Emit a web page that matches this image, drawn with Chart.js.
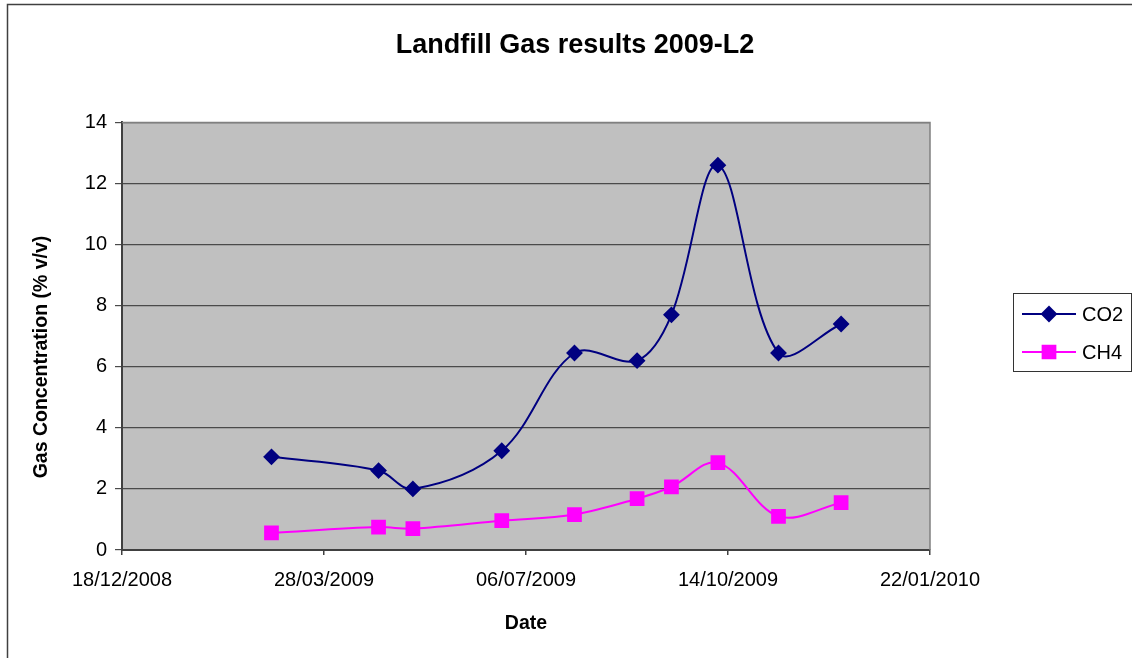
<!DOCTYPE html>
<html>
<head>
<meta charset="utf-8">
<script src="https://cdn.jsdelivr.net/npm/chart.js@4"></script>
<style>
  body { margin: 0; background: #fff; }
</style>
</head>
<body>
<canvas id="gasChart" width="1132" height="658"></canvas>
<script>
// sample dates and readings (% v/v)
var fechas = ['2009-03-02', '2009-04-24', '2009-05-11', '2009-06-24', '2009-07-30',
              '2009-08-30', '2009-09-16', '2009-10-09', '2009-11-08', '2009-12-09'];
var co2 = [3.05, 2.6, 2.0, 3.25, 6.45, 6.2, 7.7, 12.6, 6.45, 7.4];
var ch4 = [0.56, 0.75, 0.7, 0.96, 1.16, 1.68, 2.07, 2.86, 1.1, 1.55];
var inicio = '2008-12-18'; // first x tick
var pasoDias = 100;        // x tick step in days
var totalDias = 400;
var tituloY = 'Gas Concentration (% v/v)';

var DIA = 86400000;
var t0 = Date.parse(inicio);
function dia(s) { return Math.round((Date.parse(s) - t0) / DIA); }
function fecha(d) {
    var f = new Date(t0 + d * DIA);
    var dd = ('0' + f.getUTCDate()).slice(-2);
    var mm = ('0' + (f.getUTCMonth() + 1)).slice(-2);
    return dd + '/' + mm + '/' + f.getUTCFullYear();
}
var puntosCO2 = fechas.map(function (s, i) { return { x: dia(s), y: co2[i] }; });
var puntosCH4 = fechas.map(function (s, i) { return { x: dia(s), y: ch4[i] }; });

var fuente = '"Liberation Sans", Arial, sans-serif';

var fondo = {
    id: 'fondo',
    beforeDraw: function (chart) {
        var a = chart.chartArea, ctx = chart.ctx;
        ctx.save();
        ctx.fillStyle = '#C0C0C0';
        ctx.fillRect(a.left, a.top, a.right - a.left, a.bottom - a.top);
        ctx.restore();
    },
    afterDraw: function (chart) {
        var a = chart.chartArea, ctx = chart.ctx;
        ctx.save();
        // plot frame (right side)
        ctx.strokeStyle = '#808080';
        ctx.lineWidth = 1.5;
        ctx.beginPath();
        ctx.moveTo(a.left, a.top);
        ctx.lineTo(a.right, a.top);
        ctx.lineTo(a.right, a.bottom);
        ctx.stroke();
        // outer chart border
        ctx.strokeStyle = '#404040';
        ctx.lineWidth = 1.5;
        ctx.beginPath();
        ctx.moveTo(7.5, 700);
        ctx.lineTo(7.5, 4.5);
        ctx.lineTo(1200, 4.5);
        ctx.stroke();
        // y axis title, centred a bit lower like the original
        ctx.fillStyle = '#000';
        ctx.font = 'bold 19.5px ' + fuente;
        ctx.textAlign = 'center';
        ctx.textBaseline = 'middle';
        ctx.translate(42, 357);
        ctx.rotate(-Math.PI / 2);
        ctx.fillText(tituloY, 0, 0);
        ctx.setTransform(1, 0, 0, 1, 0, 0);
        // legend
        ctx.textAlign = 'left';
        ctx.strokeStyle = '#333';
        ctx.lineWidth = 1;
        ctx.strokeRect(1013.5, 293.5, 118, 78);
        var filas = [314, 352];
        chart.data.datasets.forEach(function (ds, i) {
            var y = filas[i];
            ctx.strokeStyle = ds.borderColor;
            ctx.lineWidth = 2;
            ctx.beginPath();
            ctx.moveTo(1022, y);
            ctx.lineTo(1076, y);
            ctx.stroke();
            ctx.fillStyle = ds.pointBackgroundColor;
            ctx.strokeStyle = ds.pointBorderColor;
            Chart.helpers.drawPoint(ctx, {
                pointStyle: ds.pointStyle, radius: ds.pointRadius,
                rotation: 0, borderWidth: 1
            }, 1049, y);
            ctx.fillStyle = '#000';
            ctx.font = '20px ' + fuente;
            ctx.textBaseline = 'middle';
            ctx.fillText(ds.label, 1082, y + 1);
        });
        ctx.restore();
    }
};

var ctx = document.getElementById('gasChart');
var myChart = new Chart(ctx, {
    type: 'line',
    data: {
        datasets: [{
            label: 'CO2',
            data: puntosCO2,
            borderColor: '#000080',
            borderWidth: 2,
            pointStyle: 'rectRot',
            pointRadius: 7,
            pointBackgroundColor: '#000080',
            pointBorderColor: '#000080',
            tension: 0.35
        }, {
            label: 'CH4',
            data: puntosCH4,
            borderColor: '#FF00FF',
            borderWidth: 2,
            pointStyle: 'rect',
            pointRadius: 9,
            pointBackgroundColor: '#FF00FF',
            pointBorderColor: '#FF00FF',
            tension: 0.35
        }]
    },
    options: {
        responsive: false,
        animation: false,
        layout: { padding: { left: 18, right: 0, top: 0, bottom: 0 } },
        scales: {
            x: {
                type: 'linear',
                min: 0,
                max: totalDias,
                afterFit: function (s) { s.height = 108; },
                ticks: {
                    stepSize: pasoDias,
                    color: '#000',
                    padding: 13,
                    maxRotation: 0,
                    font: { family: fuente, size: 20 },
                    callback: function (v) { return fecha(v); }
                },
                grid: { drawOnChartArea: false, drawTicks: true, tickLength: 5, color: '#404040', lineWidth: 1.5 },
                border: { color: '#404040', width: 2 },
                title: {
                    display: true,
                    text: 'Date',
                    color: '#000',
                    padding: { top: 0, bottom: 23 },
                    font: { family: fuente, size: 19.5, weight: 'bold' }
                }
            },
            y: {
                min: 0,
                max: 14,
                afterFit: function (s) { s.width = 104; },
                ticks: {
                    stepSize: 2,
                    color: '#000',
                    padding: 8,
                    font: { family: fuente, size: 20 }
                },
                grid: { color: '#4a4a4a', lineWidth: 1.2, tickLength: 7 },
                border: { color: '#404040', width: 2 }
            },
            // empty box on the right that keeps room for the legend
            hueco: {
                type: 'linear',
                position: 'right',
                display: true,
                afterFit: function (s) { s.width = 202; },
                ticks: { display: false },
                grid: { display: false },
                border: { display: false }
            }
        },
        plugins: {
            legend: { display: false },
            tooltip: { enabled: false },
            title: {
                display: true,
                text: 'Landfill Gas results 2009-L2',
                color: '#000',
                padding: { top: 29, bottom: 61 },
                font: { family: fuente, size: 27, weight: 'bold' }
            }
        }
    },
    plugins: [fondo]
});
</script>
</body>
</html>
